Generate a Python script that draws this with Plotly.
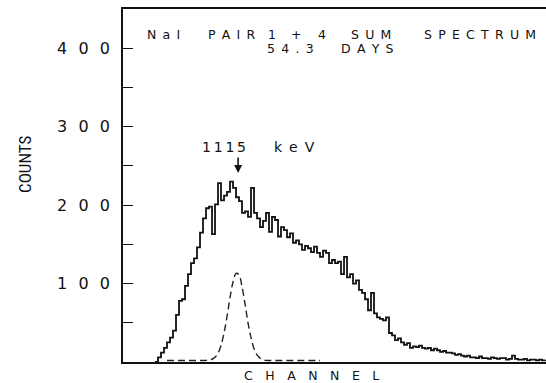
import plotly.graph_objects as go

# ---------------- data ----------------
channel = list(range(131))
counts = [
    0, 6, 12, 18, 25, 31, 40, 60, 78, 80,
    97, 112, 126, 132, 146, 165, 183, 196, 198, 163,
    201, 228, 206, 212, 217, 230, 222, 210, 205, 190,
    192, 185, 222, 190, 183, 172, 180, 190, 166, 185,
    181, 160, 172, 168, 159, 164, 152, 155, 150, 143,
    148, 145, 140, 147, 139, 134, 142, 139, 126, 130,
    126, 128, 112, 134, 108, 112, 100, 104, 92, 88,
    80, 66, 88, 62, 57, 55, 53, 57, 37, 34,
    28, 30, 25, 22, 24, 18, 20, 19, 21, 18,
    17, 18, 15, 17, 15, 13, 14, 12, 12, 11,
    9, 10, 8, 7, 8, 6, 6, 5, 7, 5,
    5, 4, 6, 5, 4, 5, 5, 3, 4, 8,
    4, 3, 3, 4, 2, 3, 3, 2, 3, 2,
    3,
]

peak_channel = list(range(4, 56))
peak_counts = [
    2, 2, 2, 2, 2, 2, 2, 2, 2, 2,
    2, 2, 2, 2, 3, 3.5, 6, 11, 21, 37,
    58, 82, 102, 113, 111, 96, 74, 50, 31, 17,
    9, 5, 3, 2, 2, 2, 2, 2, 2, 2,
    2, 2, 2, 2, 2, 2, 2, 2, 2, 2,
    2, 2,
]

ytick_vals = [50, 100, 150, 200, 250, 300, 350, 400]
ytick_text = ["", "100", "", "200", "", "300", "", "400"]

line1_words = ["NaI", "PAIR", "1", "+", "4", "SUM", "SPECTRUM"]
line2_words = ["54.3", "DAYS"]
peak_label = "1115 keV"
arrow_channel = 27.7
arrow_count = 241

# ---------------- layout helpers ----------------
W, H = 546, 383
L, R, T, B = 123, 0, 9, 21
pw, ph = W - L - R, H - T - B
FONT = "DejaVu Sans, Verdana, sans-serif"


def px_to_paper(xp, yp):
    return (xp - L) / pw, (H - B - yp) / ph


def spaced(s, sep="\u2002"):
    return sep.join(list(s))


fig = go.Figure()

fig.add_trace(go.Scatter(
    x=peak_channel, y=peak_counts, mode="lines",
    line=dict(color="#222", width=1.4, dash="7px,4px", shape="spline"),
    hoverinfo="skip",
))
fig.add_trace(go.Scatter(
    x=channel, y=counts, mode="lines",
    line=dict(color="#111", width=1.8, shape="hv"),
    hoverinfo="skip",
))

annotations = []
# title line 1, word by word
line1_centers = [163, 232, 271.5, 296, 322, 370.5, 479.5]
for w, cx in zip(line1_words, line1_centers):
    xx, yy = px_to_paper(cx, 34.5)
    annotations.append(dict(text=spaced(w), x=xx, y=yy, xref="paper", yref="paper",
                            showarrow=False, xanchor="center", yanchor="middle",
                            font=dict(family=FONT, size=12.5, color="#111")))
line2_centers = [290, 367.5]
for w, cx in zip(line2_words, line2_centers):
    xx, yy = px_to_paper(cx, 48.5)
    annotations.append(dict(text=spaced(w), x=xx, y=yy, xref="paper", yref="paper",
                            showarrow=False, xanchor="center", yanchor="middle",
                            font=dict(family=FONT, size=12.5, color="#111")))

# peak label
num, unit = peak_label.split()
for w, cx, sep in [(num, 224, "\u2009"), (unit, 294.5, "\u2002")]:
    xx, yy = px_to_paper(cx, 147)
    annotations.append(dict(text=spaced(w, sep), x=xx, y=yy, xref="paper", yref="paper",
                            showarrow=False, xanchor="center", yanchor="middle",
                            font=dict(family=FONT, size=14, color="#111")))

# arrow
annotations.append(dict(text="", x=arrow_channel, y=arrow_count, xref="x", yref="y",
                        showarrow=True, ax=0, ay=-17, arrowhead=2, arrowsize=1,
                        arrowwidth=1.6, arrowcolor="#111"))

# axis titles
xx, yy = px_to_paper(25, 165)
annotations.append(dict(text="COUNTS", x=xx, y=yy, xref="paper", yref="paper",
                        showarrow=False, textangle=-90, xanchor="center", yanchor="middle",
                        font=dict(family="Liberation Sans Narrow, Roboto Condensed, Liberation Sans, sans-serif",
                                  size=17, color="#111")))
xx, yy = px_to_paper(311, 375)
annotations.append(dict(text=spaced("CHANNEL", "\u2003"), x=xx, y=yy, xref="paper", yref="paper",
                        showarrow=False, xanchor="center", yanchor="middle",
                        font=dict(family=FONT, size=12.5, color="#111")))

fig.update_layout(
    width=W, height=H,
    margin=dict(l=L, r=R, t=T, b=B, pad=0),
    paper_bgcolor="white", plot_bgcolor="white",
    showlegend=False,
    annotations=annotations,
    xaxis=dict(range=[-10.67, 130.33], showline=True, linecolor="#111", linewidth=1.6,
               mirror=True, showticklabels=False, ticks="", showgrid=False, zeroline=False),
    yaxis=dict(range=[0, 450], showline=True, linecolor="#111", linewidth=1.6,
               tickvals=ytick_vals, ticktext=[spaced(t, "\u2002\u2009") for t in ytick_text],
               ticks="inside", ticklen=10, tickwidth=1.4, tickcolor="#111",
               ticklabelstandoff=8,
               tickfont=dict(family=FONT, size=16, color="#111"),
               showgrid=False, zeroline=False),
)

fig.write_html("out.html")
